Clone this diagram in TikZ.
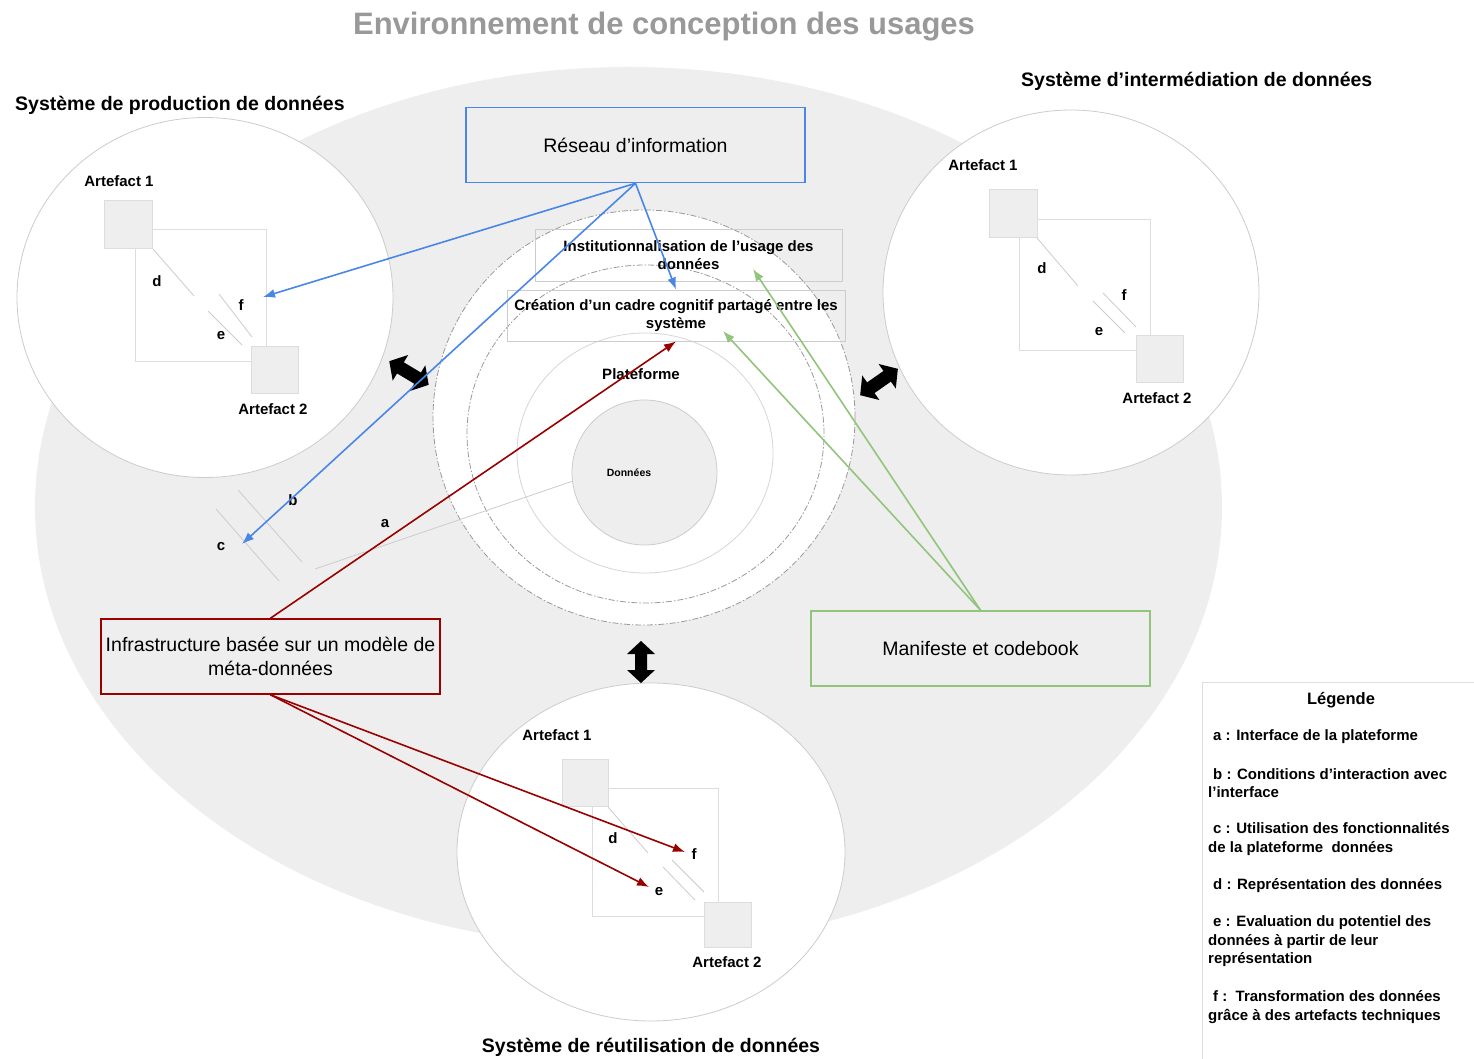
\documentclass[tikz,border=0pt]{standalone}
\usepackage{fontspec}
\setmainfont{Liberation Sans}
\usetikzlibrary{arrows.meta}
\definecolor{bgrey}{HTML}{EEEEEE}
\definecolor{lgrey}{HTML}{CCCCCC}
\definecolor{fgrey}{HTML}{DDDDDD}
\definecolor{dgrey}{HTML}{999999}
\definecolor{gblue}{HTML}{4A86E8}
\definecolor{gred}{HTML}{990000}
\definecolor{ggreen}{HTML}{93C47D}
\begin{document}
\begin{tikzpicture}[x=1pt,y=-1pt,
  lbl/.style={font=\fontsize{15}{18}\selectfont\bfseries, inner sep=0pt},
  sectitle/.style={font=\fontsize{19.5}{24}\selectfont\bfseries, inner sep=0pt},
  bigbox/.style={draw, line width=1.6pt, minimum width=339pt, minimum height=75pt, inner sep=0pt, align=center, font=\fontsize{19.5}{24}\selectfont},
  greybox/.style={draw=lgrey, line width=0.9pt, inner sep=0pt, align=center, font=\fontsize{15}{18}\selectfont\bfseries},
  square/.style={fill=bgrey, draw=fgrey, line width=0.5pt},
  frame/.style={draw=fgrey, line width=0.6pt},
  thin/.style={draw=lgrey, line width=0.8pt},
  syscircle/.style={fill=white, draw=lgrey, line width=0.8pt},
  ringdash/.style={draw=dgrey, line width=0.8pt, dash pattern=on 6pt off 2pt on 1.5pt off 2pt},
  barrow/.style={draw=gblue, line width=1.6pt, -{Latex[length=12pt,width=9pt]}},
  rarrow/.style={draw=gred, line width=1.6pt, -{Latex[length=12pt,width=9pt]}},
  garrow/.style={draw=ggreen, line width=1.6pt, -{Latex[length=12pt,width=9pt]}},
  fatarrow/.style={fill=black},
  legtext/.style={font=\fontsize{15}{18.5}\selectfont\bfseries, inner sep=0pt, align=left, anchor=west}
]
\useasboundingbox (0,0) rectangle (1474,1059);

% title
\node[font=\fontsize{31}{36}\selectfont\bfseries, text=dgrey, inner sep=0pt] (title) at (664,27) {Environnement de conception des usages};

% environment ellipse
\fill[bgrey] (628.5,507) ellipse [x radius=593.5pt, y radius=440pt];

% system circles
\draw[syscircle] (205,297.5) ellipse [x radius=188pt, y radius=180pt];
\draw[syscircle] (1071,292.5) ellipse [x radius=188pt, y radius=182.5pt];
\draw[syscircle] (651,852) ellipse [x radius=194pt, y radius=169pt];

% central rings
\draw[ringdash, fill=white] (644,417.5) ellipse [x radius=211pt, y radius=207.5pt];
\draw[ringdash] (645.5,434) ellipse [x radius=178.5pt, y radius=169pt];
\draw[thin, draw=lgrey!80] (645,453) ellipse [x radius=128pt, y radius=120pt];
\draw[fill=bgrey, draw=lgrey, line width=0.8pt] (644.5,472.5) circle [radius=72.5pt];

% section titles
\node[sectitle, anchor=west] (tprod) at (15,105) {Système de production de données};
\node[sectitle, anchor=west] (tinter) at (1021,81) {Système d’intermédiation de données};
\node[sectitle] (treut) at (651,1047) {Système de réutilisation de données};

% ---- left system artefacts
\draw[frame] (135,229) rectangle (266,361);
\draw[square] (104,200) rectangle (152,248);
\draw[square] (251,346) rectangle (298,393);
\draw[thin] (153,249) -- (194,296);
\draw[thin] (219,294) -- (252,337);
\draw[thin] (208,311) -- (242,345);
\node[lbl] (la1) at (119,181) {Artefact 1};
\node[lbl] (la2) at (273,409) {Artefact 2};
\node[lbl] (ld) at (157,281) {d};
\node[lbl] (lf) at (241,305) {f};
\node[lbl] (le) at (221,336) {e};
\coordinate (Lf) at (263,297);

% ---- right system artefacts
\draw[frame] (1019,219) rectangle (1150,350);
\draw[square] (989,189) rectangle (1037,237);
\draw[square] (1136,335) rectangle (1183,382);
\draw[thin] (1037,238) -- (1078,286);
\draw[thin] (1103,293) -- (1136,327);
\draw[thin] (1093,301) -- (1125,333);
\node[lbl] (ra1) at (983,165) {Artefact 1};
\node[lbl] (ra2) at (1157,398) {Artefact 2};
\node[lbl] (rd) at (1042,268) {d};
\node[lbl] (rf) at (1124,295) {f};
\node[lbl] (re) at (1099,332) {e};

% ---- bottom system artefacts
\draw[frame] (592,788) rectangle (718,916);
\draw[square] (562,759) rectangle (608,806);
\draw[square] (704,902) rectangle (751,947);
\draw[thin] (608,807) -- (648,853);
\draw[thin] (672,860) -- (704,892);
\draw[thin] (663,867) -- (695,900);
\node[lbl] (ba1) at (557,735) {Artefact 1};
\node[lbl] (ba2) at (727,962) {Artefact 2};
\node[lbl] (bd) at (613,838) {d};
\node[lbl] (bf) at (694,854) {f};
\node[lbl] (be) at (659,892) {e};
\coordinate (Bf) at (685,852);
\coordinate (Be) at (649,887);

% ---- interface lines a, b, c
\draw[thin] (238,490) -- (302,562);
\draw[thin] (216,509) -- (279,581);
\draw[thin] (315,569) -- (573,481);
\node[lbl] (lb) at (293,500) {b};
\node[lbl] (lc) at (221,547) {c};
\node[lbl] (lA) at (385,524) {a};
\coordinate (Lc) at (242,544);

% ---- central labels and boxes
\node[lbl] (plat) at (641,374) {Plateforme};
\node[font=\fontsize{10.5}{12}\selectfont\bfseries, inner sep=0pt] (donnees) at (629,473) {Données};
\node[greybox, minimum width=307pt, minimum height=52pt] (inst) at (688.5,255) {Institutionnalisation de l’usage des\\données};
\node[greybox, minimum width=338pt, minimum height=51pt] (creation) at (676,315.5) {Création d’un cadre cognitif partagé entre les\\système};

\node[bigbox, draw=gblue] (reseau) at (635.5,145) {Réseau d’information};
\node[bigbox, draw=gred] (infra) at (270.5,656.5) {Infrastructure basée sur un modèle de\\méta-données};
\node[bigbox, draw=ggreen] (manif) at (980.5,648.5) {Manifeste et codebook};

% ---- fat double arrows between systems
\begin{scope}[shift={(409,373)}, rotate=-31]
  \fill[fatarrow] (-23,0) -- (-10,15) -- (-10,6.5) -- (10,6.5) -- (10,15) -- (23,0) -- (10,-15) -- (10,-6.5) -- (-10,-6.5) -- (-10,-15) -- cycle;
\end{scope}
\begin{scope}[shift={(879,382)}, rotate=35]
  \fill[fatarrow] (-23,0) -- (-10,15) -- (-10,6.5) -- (10,6.5) -- (10,15) -- (23,0) -- (10,-15) -- (10,-6.5) -- (-10,-6.5) -- (-10,-15) -- cycle;
\end{scope}
\begin{scope}[shift={(641,662)}, rotate=90]
  \fill[fatarrow] (-21,0) -- (-8,14) -- (-8,6) -- (8,6) -- (8,14) -- (21,0) -- (8,-14) -- (8,-6) -- (-8,-6) -- (-8,-14) -- cycle;
\end{scope}

% ---- coloured connectors
\draw[barrow] (reseau.south) -- (Lf);
\draw[barrow] (reseau.south) -- (Lc);
\draw[barrow] (reseau.south) -- (creation.north);
\draw[rarrow] (infra.north) -- (creation.south);
\draw[rarrow] (infra.south) -- (Bf);
\draw[rarrow] (infra.south) -- (Be);
\coordinate (Ii) at (753,269);
\coordinate (Ci) at (723,331);
\draw[garrow] (manif.north) -- (Ii);
\draw[garrow] (manif.north) -- (Ci);

% ---- legend
\draw[draw=fgrey, line width=0.8pt] (1202,1059) -- (1202,682) -- (1474,682);
\node[font=\fontsize{16.5}{20}\selectfont\bfseries, inner sep=0pt] (legtitle) at (1341,700) {Légende};
\node[legtext] (lega) at (1208,737) {\hspace*{5pt}a : Interface de la plateforme};
\node[legtext] (legb) at (1208,783) {\hspace*{5pt}b : Conditions d’interaction avec\\l’interface};
\node[legtext] (legc) at (1208,839) {\hspace*{5pt}c : Utilisation des fonctionnalités\\de la plateforme\ \ données};
\node[legtext] (legd) at (1208,886) {\hspace*{5pt}d : Représentation des données};
\node[legtext] (lege) at (1208,941.5) {\hspace*{5pt}e : Evaluation du potentiel des\\données à partir de leur\\représentation};
\node[legtext] (legf) at (1208,1007) {\hspace*{5pt}f :\ \ Transformation des données\\grâce à des artefacts techniques};
\end{tikzpicture}
\end{document}
